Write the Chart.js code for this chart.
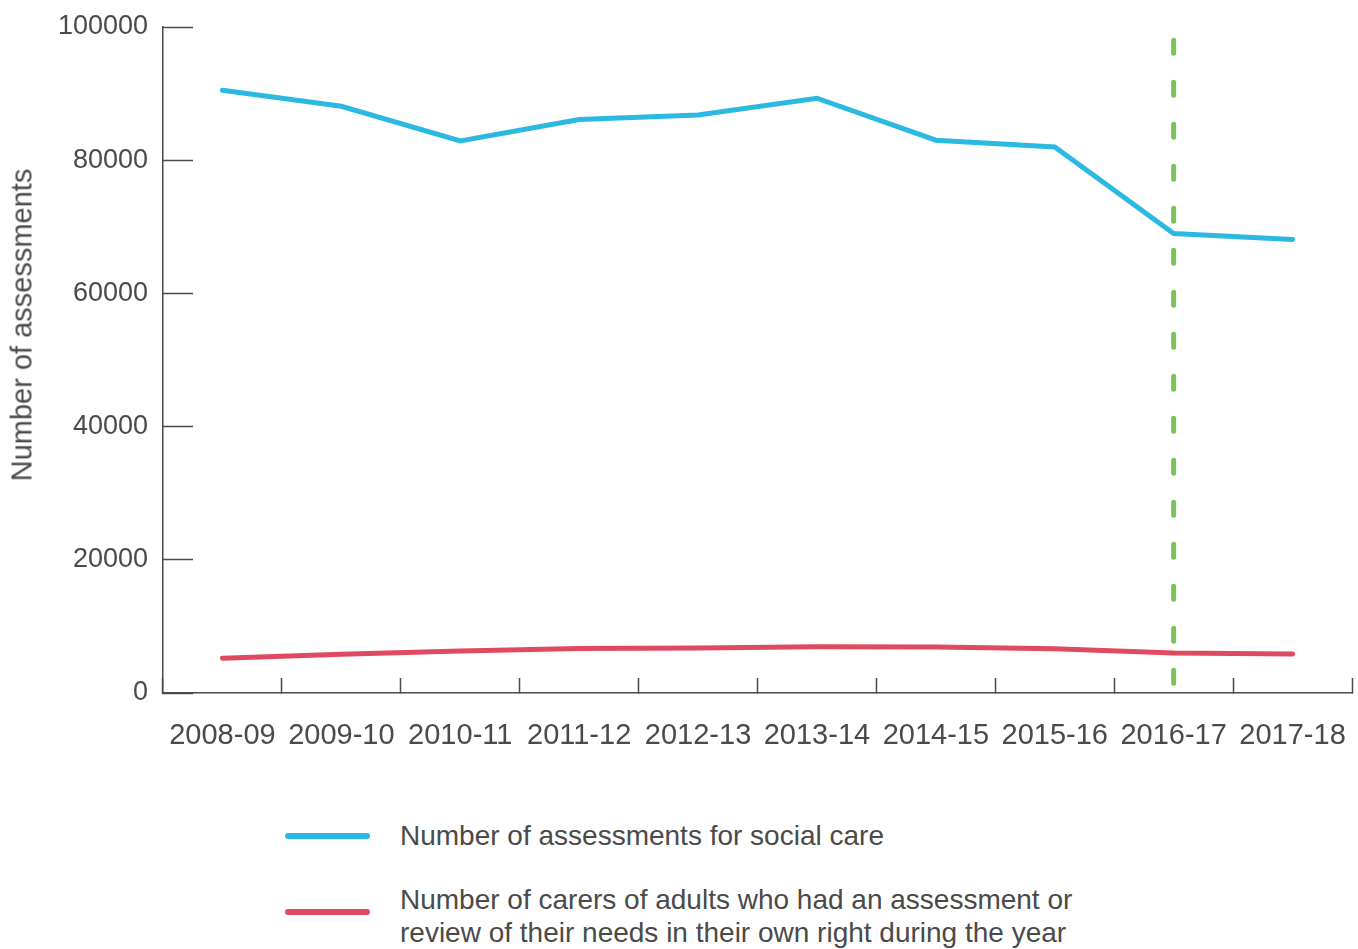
<!DOCTYPE html>
<html>
<head>
<meta charset="utf-8">
<script src="https://cdn.jsdelivr.net/npm/chart.js@4/dist/chart.umd.min.js"></script>
<style>
  body { margin: 0; background: #fff; font-family: "Liberation Sans", Arial, sans-serif; color: #4a4a4a; }
  .wrap { position: relative; width: 1358px; height: 949px; }
  .yTitle {
    position: absolute; left: 22px; top: 325px;
    transform: translate(-50%, -50%) rotate(-90deg);
    font-size: 29px; white-space: nowrap;
  }
  .legend { position: absolute; left: 285px; top: 819px; font-size: 28px; line-height: 33px; }
  .legend .item { display: flex; align-items: center; margin-bottom: 31px; }
  .legend .swatch { width: 85px; height: 6px; border-radius: 3px; margin-right: 30px; flex: none; position: relative; }
  .legend .item + .item .swatch { top: -4px; }
</style>
</head>
<body>
<div class="wrap">
  <canvas id="chart" width="1358" height="770"></canvas>
  <div class="yTitle">Number of assessments</div>
  <div class="legend" id="legend"></div>
</div>
<script>
const years = ['2008-09', '2009-10', '2010-11', '2011-12', '2012-13', '2013-14', '2014-15', '2015-16', '2016-17', '2017-18'];
const socialCare = [90500, 88100, 82900, 86100, 86800, 89300, 83000, 82000, 69000, 68100];
const carers = [5200, 5800, 6300, 6700, 6750, 6950, 6900, 6650, 6000, 5850];
const markerYear = '2016-17';
const markerRange = [98000, 0];
const yTicks = [0, 20000, 40000, 60000, 80000, 100000];

const seriesNames = ['Number of assessments for social care',
  'Number of carers of adults who had an assessment or\nreview of their needs in their own right during the year'];
const blue = '#2bb9e1';
const red = '#e04a60';
const green = '#7ac35c';
const axisColor = '#4a4a4a';

const ctx = document.getElementById('chart').getContext('2d');
new Chart(ctx, {
    type: 'line',
    data: {
        labels: years,
        datasets: [
            {
                label: seriesNames[0],
                data: socialCare,
                borderColor: blue,
                borderWidth: 5,
                borderCapStyle: 'round',
                pointRadius: 0,
                tension: 0,
                fill: false,
            },
            {
                label: seriesNames[1],
                data: carers,
                borderColor: red,
                borderWidth: 5,
                borderCapStyle: 'round',
                pointRadius: 0,
                tension: 0,
                fill: false,
            },
            {
                label: 'marker',
                data: markerRange.map(v => ({ x: markerYear, y: v })),
                borderColor: green,
                borderWidth: 5,
                borderDash: [13, 29],
                borderCapStyle: 'round',
                pointRadius: 0,
                fill: false,
            },
        ],
    },
    options: {
        responsive: false,
        animation: false,
        layout: { padding: { left: 0, right: 6, top: 27, bottom: 0 } },
        plugins: {
            legend: { display: false },
            tooltip: { enabled: false },
        },
        scales: {
            x: {
                offset: true,
                afterFit: (scale) => {
                    scale.height = 77;
                    scale.paddingLeft = 0;
                    scale.paddingRight = 0;
                },
                grid: {
                    offset: true,
                    drawOnChartArea: false,
                    tickLength: -15,
                    tickWidth: 1.5,
                    tickColor: axisColor,
                },
                border: { color: axisColor, width: 1.5 },
                ticks: {
                    padding: 41,
                    color: axisColor,
                    font: { family: 'Liberation Sans', size: 29 },
                    maxRotation: 0,
                    autoSkip: false,
                },
            },
            y: {
                min: 0,
                max: 100000,
                afterFit: (scale) => {
                    scale.width = 163;
                    scale.paddingTop = 0;
                    scale.paddingBottom = 0;
                },
                afterBuildTicks: (scale) => { scale.ticks = yTicks.map(v => ({ value: v })); },
                grid: {
                    drawOnChartArea: false,
                    tickLength: -30,
                    tickWidth: 1.5,
                    tickColor: axisColor,
                },
                border: { color: axisColor, width: 1.5 },
                ticks: {
                    padding: 45,
                    color: axisColor,
                    font: { family: 'Liberation Sans', size: 27 },
                    callback: (v) => String(v),
                },
            },
        },
    },
});

// html legend so the long label can wrap onto two lines
const legendEl = document.getElementById('legend');
[blue, red].forEach((c, i) => {
    const item = document.createElement('div');
    item.className = 'item';
    const sw = document.createElement('span');
    sw.className = 'swatch';
    sw.style.background = c;
    const txt = document.createElement('span');
    txt.innerHTML = seriesNames[i].replace('\n', '<br>');
    item.appendChild(sw);
    item.appendChild(txt);
    legendEl.appendChild(item);
});
</script>
</body>
</html>
